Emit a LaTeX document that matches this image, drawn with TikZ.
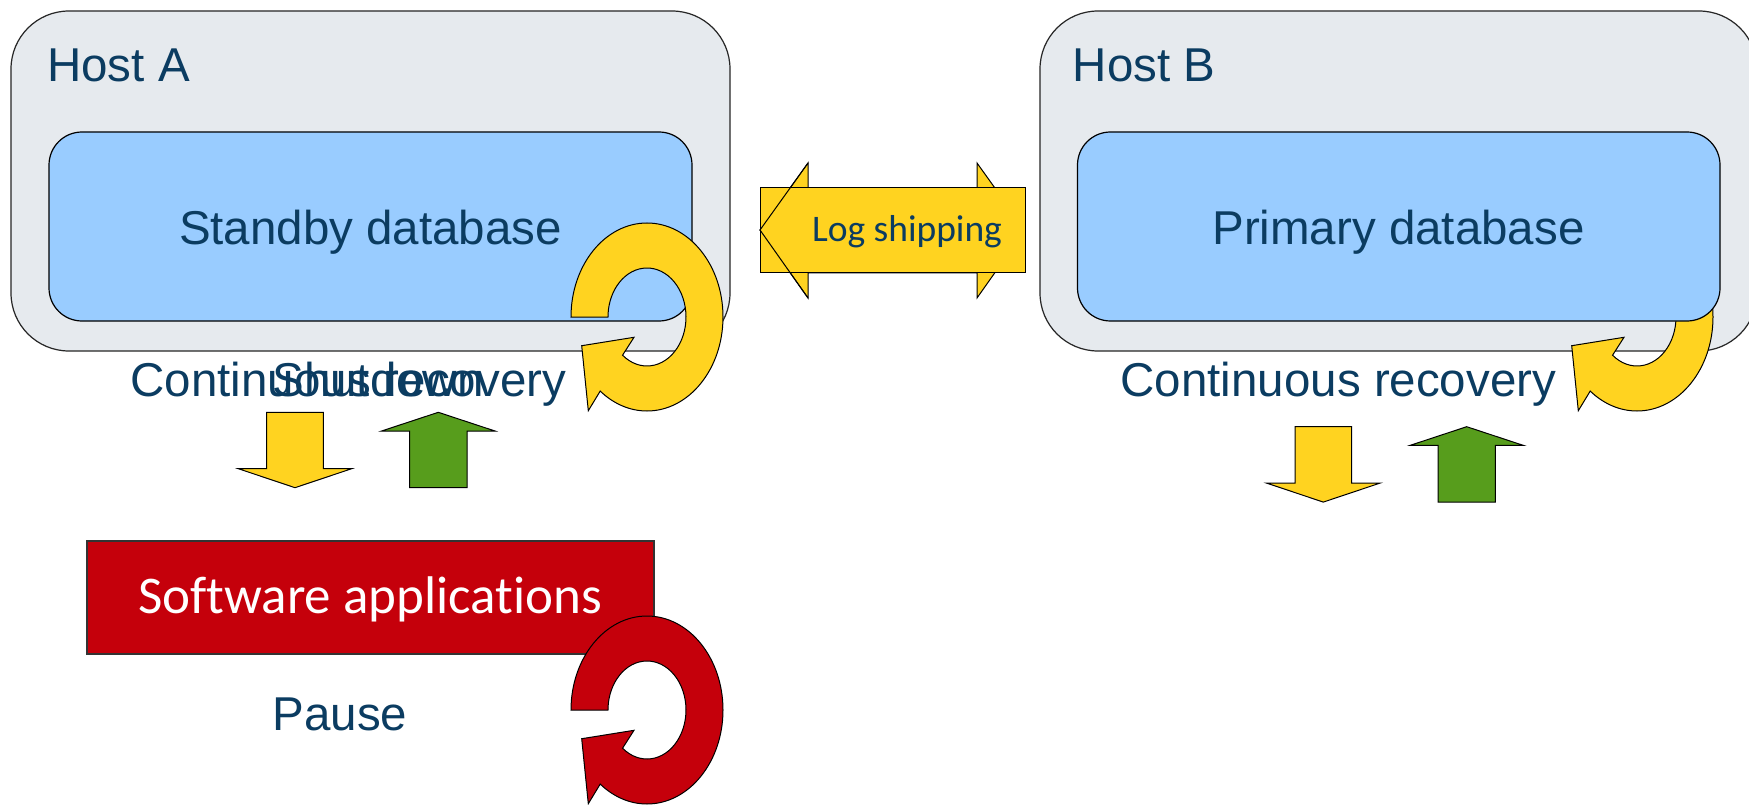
\documentclass[tikz,border=0pt]{standalone}
\usepackage{fontspec}
\setmainfont{Liberation Sans}
\newfontfamily\calibfont[Ligatures=NoCommon]{Carlito}
\definecolor{navy}{HTML}{0B3C61}
\definecolor{hostgray}{HTML}{E6EAEE}
\definecolor{dbblue}{HTML}{99CCFF}
\definecolor{gold}{HTML}{FFD320}
\definecolor{leaf}{HTML}{579D1C}
\definecolor{crimson}{HTML}{C5000B}
\tikzset{
  hostbox/.style={draw=black!85, line width=1.2pt, fill=hostgray, rounded corners=58pt,
    minimum width=719pt, minimum height=340pt, inner sep=0pt},
  dbbox/.style={draw=black, line width=1.2pt, fill=dbblue, rounded corners=33pt,
    minimum width=643pt, minimum height=189pt, inner sep=0pt},
  appbox/.style={draw=black!80, line width=1.1pt, fill=crimson,
    minimum width=567pt, minimum height=113pt, inner sep=0pt},
  lbl/.style={text=navy, font=\fontsize{47.5}{57}\selectfont, inner sep=0pt, anchor=base},
  shape edge/.style={draw=black, line width=1pt, line join=miter},
  downblock/.pic={\path[pic actions] (-28.3,0) -- (28.3,0) -- (28.3,56.4) -- (56.7,56.4)
      -- (0,75.4) -- (-56.7,56.4) -- (-28.3,56.4) -- cycle;},
  upblock/.pic={\path[pic actions] (0,0) -- (56.7,18.7) -- (28.7,18.7) -- (28.7,75.4)
      -- (-28.7,75.4) -- (-28.7,18.7) -- (-56.7,18.7) -- cycle;},
  ringarrow/.pic={\path[pic actions] (-76,0)
      arc[start angle=180, end angle=488, x radius=76, y radius=94]
      -- (-58.7,93.7) -- (-65.3,28.7) -- (-13,20.3)
      -- (488.8:39 and 49)
      arc[start angle=488.8, end angle=180, x radius=39, y radius=49] -- cycle;}
}
\begin{document}
\begin{tikzpicture}[x=1pt,y=-1pt]
\clip (0,0) rectangle (1749,805);
\fill[white] (0,0) rectangle (1749,805);

% Host A with the standby database
\node[hostbox] (hostA) at (370.5,181) {};
\node[dbbox] (standby) at (370.5,226.5) {};
\node[lbl, anchor=base west] (hostAlbl) at (47,81.5) {Host A};
\node[lbl] (standbylbl) at (370.5,245) {Standby database};
\pic[shape edge, fill=gold] at (647,317) {ringarrow};

% Host B with the primary database
\node[hostbox, minimum width=717pt] (hostB) at (1398.5,181) {};
\pic[shape edge, fill=gold] at (1637,317) {ringarrow};
\node[dbbox, minimum width=642.5pt] (primary) at (1398.75,226.5) {};
\node[lbl, anchor=base west] (hostBlbl) at (1072.7,81.5) {Host B};
\node[lbl] (primarylbl) at (1398.5,245) {Primary database};

% Log shipping between the hosts
\path[shape edge, fill=gold] (760,230) -- (808,163) -- (808,188) -- (977,188) -- (977,163)
  -- (1025,230) -- (977,298) -- (977,273) -- (808,273) -- (808,298) -- cycle;
\node[shape edge, fill=gold, minimum width=265pt, minimum height=85pt, inner sep=0pt]
  (logbox) at (892.5,230.5) {};
\draw[shape edge] (808,163) -- (760,230) -- (808,298);
\node[text=navy, font=\calibfont\fontsize{37.5}{45}\selectfont, inner sep=0pt, anchor=base]
  (loglbl) at (907,241.7) {Log shipping};

% Recovery labels and the up/down arrows
\node[lbl] (recA) at (348.4,396.7) {Continuous recovery};
\node[lbl] (shutdown) at (378,396.7) {Shutdown};
\node[lbl] (recB) at (1338.4,396.7) {Continuous recovery};
\pic[shape edge, fill=gold] at (295,412.3) {downblock};
\pic[shape edge, fill=leaf] at (438.3,412.3) {upblock};
\pic[shape edge, fill=gold] at (1323.3,426.7) {downblock};
\pic[shape edge, fill=leaf] at (1466.7,426.7) {upblock};

% Applications
\node[appbox] (apps) at (370.5,597.5) {};
\node[text=white, font=\calibfont\fontsize{53}{63}\selectfont, inner sep=0pt, anchor=base]
  (appslbl) at (370,613.3) {Software applications};
\pic[shape edge, fill=crimson] at (647,710) {ringarrow};
\node[lbl] (pause) at (340,730) {Pause};
\end{tikzpicture}
\end{document}
